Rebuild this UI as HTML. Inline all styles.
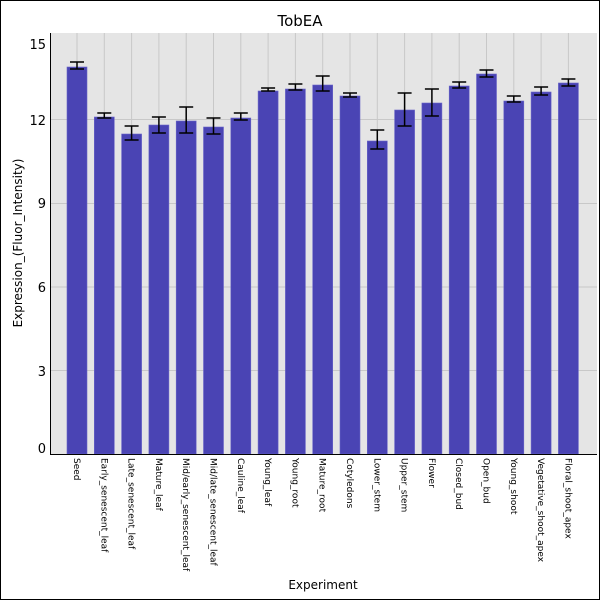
<!DOCTYPE html><html><head><style>body{margin:0}svg{display:block}text{font-family:"DejaVu Sans","Liberation Sans",sans-serif}</style></head><body>
<svg width="600" height="600" xmlns="http://www.w3.org/2000/svg">
<rect x="0.5" y="0.5" width="599" height="599" fill="#fff" stroke="#000"/>
<rect x="50" y="33" width="547" height="421" fill="#e5e5e5"/>
<g stroke="#c8c8c8" stroke-width="1">
<line x1="50" x2="597" y1="119.5" y2="119.5"/><line x1="50" x2="597" y1="203.5" y2="203.5"/><line x1="50" x2="597" y1="287" y2="287"/><line x1="50" x2="597" y1="370.5" y2="370.5"/>
<line x1="77" x2="77" y1="33" y2="454"/><line x1="104.3" x2="104.3" y1="33" y2="454"/><line x1="131.6" x2="131.6" y1="33" y2="454"/><line x1="158.9" x2="158.9" y1="33" y2="454"/><line x1="186.2" x2="186.2" y1="33" y2="454"/><line x1="213.5" x2="213.5" y1="33" y2="454"/><line x1="240.8" x2="240.8" y1="33" y2="454"/><line x1="268.1" x2="268.1" y1="33" y2="454"/><line x1="295.4" x2="295.4" y1="33" y2="454"/><line x1="322.7" x2="322.7" y1="33" y2="454"/><line x1="350" x2="350" y1="33" y2="454"/><line x1="377.3" x2="377.3" y1="33" y2="454"/><line x1="404.6" x2="404.6" y1="33" y2="454"/><line x1="431.9" x2="431.9" y1="33" y2="454"/><line x1="459.2" x2="459.2" y1="33" y2="454"/><line x1="486.5" x2="486.5" y1="33" y2="454"/><line x1="513.8" x2="513.8" y1="33" y2="454"/><line x1="541.1" x2="541.1" y1="33" y2="454"/><line x1="568.4" x2="568.4" y1="33" y2="454"/>
</g>
<text x="300" y="26" font-size="15" text-anchor="middle">TobEA</text>
<g font-size="13" text-anchor="end">
<text x="46" y="49">15</text><text x="46" y="125">12</text><text x="46" y="208">9</text><text x="46" y="292">6</text><text x="46" y="376">3</text><text x="46" y="453">0</text>
</g>
<text transform="translate(22,243) rotate(-90)" font-size="12" text-anchor="middle">Expression_(Fluor_Intensity)</text>
<text x="323" y="589" font-size="12" text-anchor="middle">Experiment</text>
<g fill="#4a44b4" stroke="#6a66c8" stroke-width="0.6">
<rect x="67" y="67" width="20" height="387"/>
<rect x="94.3" y="117" width="20" height="337"/>
<rect x="121.6" y="134" width="20" height="320"/>
<rect x="148.9" y="125" width="20" height="329"/>
<rect x="176.2" y="121" width="20" height="333"/>
<rect x="203.5" y="127" width="20" height="327"/>
<rect x="230.8" y="118" width="20" height="336"/>
<rect x="258.1" y="91" width="20" height="363"/>
<rect x="285.4" y="89" width="20" height="365"/>
<rect x="312.7" y="85" width="20" height="369"/>
<rect x="340" y="96" width="20" height="358"/>
<rect x="367.3" y="141" width="20" height="313"/>
<rect x="394.6" y="110" width="20" height="344"/>
<rect x="421.9" y="103" width="20" height="351"/>
<rect x="449.2" y="86" width="20" height="368"/>
<rect x="476.5" y="74" width="20" height="380"/>
<rect x="503.8" y="101" width="20" height="353"/>
<rect x="531.1" y="92" width="20" height="362"/>
<rect x="558.4" y="83" width="20" height="371"/>
</g>
<g stroke="#000" stroke-width="1.5">
<path d="M77 62V69M70 62H84M70 69H84"/>
<path d="M104.3 113V118M97.3 113H111.3M97.3 118H111.3"/>
<path d="M131.6 126V140M124.6 126H138.6M124.6 140H138.6"/>
<path d="M158.9 117V133M151.9 117H165.9M151.9 133H165.9"/>
<path d="M186.2 107V133M179.2 107H193.2M179.2 133H193.2"/>
<path d="M213.5 118V134M206.5 118H220.5M206.5 134H220.5"/>
<path d="M240.8 113V120M233.8 113H247.8M233.8 120H247.8"/>
<path d="M268.1 88V91M261.1 88H275.1M261.1 91H275.1"/>
<path d="M295.4 84V90M288.4 84H302.4M288.4 90H302.4"/>
<path d="M322.7 76V91M315.7 76H329.7M315.7 91H329.7"/>
<path d="M350 93V97M343 93H357M343 97H357"/>
<path d="M377.3 130V149M370.3 130H384.3M370.3 149H384.3"/>
<path d="M404.6 93V126M397.6 93H411.6M397.6 126H411.6"/>
<path d="M431.9 89V116M424.9 89H438.9M424.9 116H438.9"/>
<path d="M459.2 82V88M452.2 82H466.2M452.2 88H466.2"/>
<path d="M486.5 70V77M479.5 70H493.5M479.5 77H493.5"/>
<path d="M513.8 96V102M506.8 96H520.8M506.8 102H520.8"/>
<path d="M541.1 87V95M534.1 87H548.1M534.1 95H548.1"/>
<path d="M568.4 79V86M561.4 79H575.4M561.4 86H575.4"/>
</g>
<g font-size="9">
<text transform="translate(74,458) rotate(90)">Seed</text>
<text transform="translate(101.3,458) rotate(90)">Early_senescent_leaf</text>
<text transform="translate(128.6,458) rotate(90)">Late_senescent_leaf</text>
<text transform="translate(155.9,458) rotate(90)">Mature_leaf</text>
<text transform="translate(183.2,458) rotate(90)">Mid/early_senescent_leaf</text>
<text transform="translate(210.5,458) rotate(90)">Mid/late_senescent_leaf</text>
<text transform="translate(237.8,458) rotate(90)">Cauline_leaf</text>
<text transform="translate(265.1,458) rotate(90)">Young_leaf</text>
<text transform="translate(292.4,458) rotate(90)">Young_root</text>
<text transform="translate(319.7,458) rotate(90)">Mature_root</text>
<text transform="translate(347,458) rotate(90)">Cotyledons</text>
<text transform="translate(374.3,458) rotate(90)">Lower_stem</text>
<text transform="translate(401.6,458) rotate(90)">Upper_stem</text>
<text transform="translate(428.9,458) rotate(90)">Flower</text>
<text transform="translate(456.2,458) rotate(90)">Closed_bud</text>
<text transform="translate(483.5,458) rotate(90)">Open_bud</text>
<text transform="translate(510.8,458) rotate(90)">Young_shoot</text>
<text transform="translate(538.1,458) rotate(90)">Vegetative_shoot_apex</text>
<text transform="translate(565.4,458) rotate(90)">Floral_shoot_apex</text>
</g>
<line x1="50.5" y1="33" x2="50.5" y2="454" stroke="#000"/>
<line x1="50" y1="454.5" x2="597" y2="454.5" stroke="#000"/>
</svg></body></html>
